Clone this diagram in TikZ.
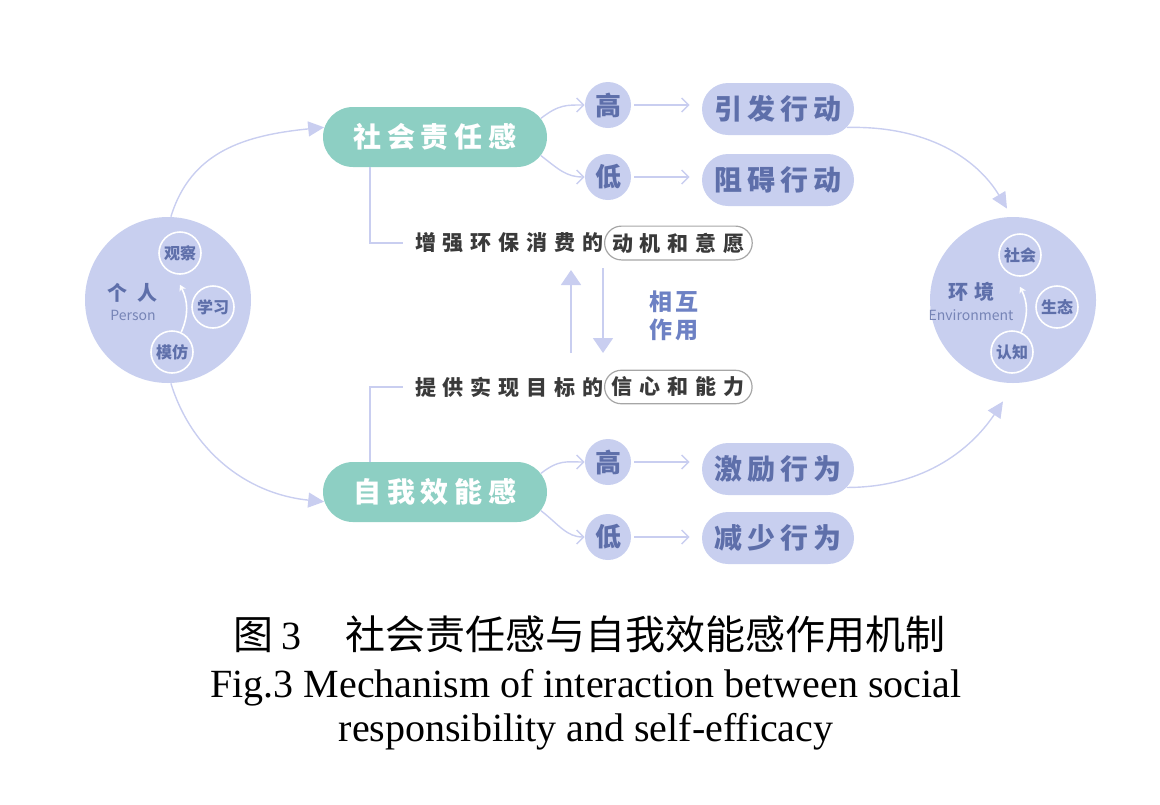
\documentclass[tikz,border=0pt]{standalone}
\usepackage{fontspec}
\setmainfont{Liberation Serif}
\newfontfamily\cjk{Noto Sans CJK SC}
\usetikzlibrary{arrows.meta,shapes.misc}
\definecolor{MechTeal}{HTML}{8DCFC3}
\definecolor{MechBlue}{HTML}{C8CFEF}
\definecolor{MechInk}{HTML}{5E6FAA}
\definecolor{MechSoft}{HTML}{7684B6}
\definecolor{MechRule}{HTML}{C9CEF0}
\definecolor{MechText}{HTML}{3A3A3A}
\definecolor{MechWord}{HTML}{6D81C4}
\tikzset{
  core/.style={rounded rectangle, fill=MechTeal, text=white, minimum width=112pt, minimum height=30pt, inner sep=0pt,
    font={\cjk\bfseries\addfontfeatures{LetterSpace=20}\fontsize{14pt}{16pt}\selectfont}},
  level/.style={circle, fill=MechBlue, text=MechInk, minimum size=23pt, inner sep=0pt,
    font={\cjk\bfseries\fontsize{13pt}{15pt}\selectfont}},
  effect/.style={rounded rectangle, fill=MechBlue, text=MechInk, minimum width=76pt, minimum height=26pt, inner sep=0pt,
    font={\cjk\bfseries\addfontfeatures{LetterSpace=18}\fontsize{14pt}{16pt}\selectfont}},
  agent/.style={circle, fill=MechBlue, minimum size=83pt, inner sep=0pt},
  factor/.style={circle, draw=white, line width=0.8pt, text=MechInk, minimum size=21pt, inner sep=0pt,
    font={\cjk\bfseries\fontsize{8pt}{9pt}\selectfont}},
  agentcn/.style={text=MechInk, inner sep=0pt, font={\cjk\bfseries\fontsize{10pt}{12pt}\selectfont}},
  agenten/.style={text=MechSoft, inner sep=0pt, font={\cjk\fontsize{7pt}{8pt}\selectfont}},
  goaltext/.style={text=MechText, inner xsep=0pt,
    font={\cjk\bfseries\addfontfeatures{LetterSpace=33}\fontsize{10.5pt}{12pt}\selectfont}},
  goalbox/.style={goaltext, rounded rectangle, draw=gray!70, line width=0.6pt, minimum height=16.5pt, inner xsep=2pt},
  link/.style={MechRule, line width=0.7pt, -{Straight Barb[length=3.5pt,width=7pt]}},
  flow/.style={MechRule, line width=0.7pt, -{Triangle[length=8pt,width=7.5pt]}},
  mutual/.style={MechRule, line width=0.9pt, -{Triangle[length=7.5pt,width=10pt]}},
  bracket/.style={MechRule, line width=0.7pt},
  cycle/.style={white, line width=0.8pt, -{Stealth[length=3pt,width=3.5pt]}},
}
\begin{document}
\begin{tikzpicture}[>=Latex,x=0.5pt,y=-0.5pt]
  \useasboundingbox (0,0) rectangle (1160,804);
  % person and environment
  \node[agent] (person) at (168,300) {};
  \node[agent] (env) at (1013,300) {};
  \node[factor] (observe) at (180,253) {观察};
  \node[factor] (learn) at (213,307) {学习};
  \node[factor] (imitate) at (172,352) {模仿};
  \node[agentcn] (personcn) at (132,293) {个\hspace{5pt}人};
  \node[agenten] (personen) at (133,315) {Person};
  \node[factor] (society) at (1020,255) {社会};
  \node[factor] (ecology) at (1057,307) {生态};
  \node[factor] (cognition) at (1012,352) {认知};
  \node[agentcn] (envcn) at (971,292) {环\hspace{3pt}境};
  \node[agenten] (envEn) at (971,315) {Environment};
  \draw[cycle] (imitate.65) to[bend right=25] ([yshift=-5pt]observe.south);
  \draw[cycle] (cognition.65) to[bend right=25] ([yshift=-5pt]society.south);
  % two drivers
  \node[core] (duty) at (435,137) {社会责任感};
  \node[core] (efficacy) at (435,492) {自我效能感};
  \node[level] (hiA) at (608,105) {高};
  \node[level] (loA) at (608,177) {低};
  \node[level] (hiB) at (608,462) {高};
  \node[level] (loB) at (608,537) {低};
  \node[effect] (effA) at (778,109) {引发行动};
  \node[effect] (effB) at (778,180) {阻碍行动};
  \node[effect] (effC) at (778,469) {激励行为};
  \node[effect] (effD) at (778,538) {减少行为};
  \draw[link] (duty.10) .. controls +(18,-14) and +(-18,0) .. (hiA.west);
  \draw[link] (duty.-10) .. controls +(18,14) and +(-18,0) .. (loA.west);
  \draw[link] (efficacy.10) .. controls +(18,-14) and +(-18,0) .. (hiB.west);
  \draw[link] (efficacy.-10) .. controls +(18,14) and +(-18,0) .. (loB.west);
  \foreach \lv/\ef in {hiA/effA,loA/effB,hiB/effC,loB/effD}
    \draw[link, shorten <=1.5pt, shorten >=6pt] (\lv.east) -- (\lv.east -| \ef.west);
  % middle
  \node[goaltext, anchor=east] (motive) at (604,243) {增强环保消费的};
  \node[goalbox, anchor=west] (motivebox) at (604,243) {动机和意愿};
  \node[goaltext, anchor=east] (supply) at (604,387) {提供实现目标的};
  \node[goalbox, anchor=west] (supplybox) at (604,387) {信心和能力};
  \draw[bracket, shorten >=6pt] ([xshift=-32.5pt]duty.south) |- (motive.west);
  \draw[bracket, shorten >=6pt] ([xshift=-32.5pt]efficacy.north) |- (supply.west);
  \coordinate (upfoot) at (571,353);
  \coordinate (uphead) at (571,270);
  \coordinate (downfoot) at (603,268);
  \coordinate (downhead) at (603,353);
  \draw[mutual] (upfoot) -- (uphead);
  \draw[mutual] (downfoot) -- (downhead);
  \node[text=MechWord, align=center, inner sep=0pt,
    font={\cjk\bfseries\addfontfeatures{LetterSpace=17}\fontsize{11.5pt}{14pt}\selectfont}] (mutualtxt) at (674,316) {相互\\作用};
  % flows to and from the circles
  \draw[flow] (person.88) .. controls +(20,-65) and +(-80,8) .. (duty.175);
  \draw[flow] (person.-88) .. controls +(20,65) and +(-80,-8) .. (efficacy.185);
  \draw[flow] (effA.-15) .. controls +(80,-2) and +(-30,-50) .. ([xshift=-3pt,yshift=4pt]env.north);
  \draw[flow] (effC.-15) .. controls +(80,0) and +(-30,45) .. ([xshift=-5pt,yshift=-9pt]env.south);
  % caption
  \node[font={\cjk\fontsize{20pt}{24pt}\selectfont}] (capcn) at (589,634)
    {图\hspace{4pt}{\rmfamily 3}\hspace{22pt}社会责任感与自我效能感作用机制};
  \node[anchor=base, font=\fontsize{20pt}{24pt}\selectfont] (capen) at (586,697)
    {Fig.3 Mechanism of interaction between social};
  \node[anchor=base, font=\fontsize{20pt}{24pt}\selectfont] (capen2) at (586,741)
    {responsibility and self-efficacy};
\end{tikzpicture}
\end{document}
